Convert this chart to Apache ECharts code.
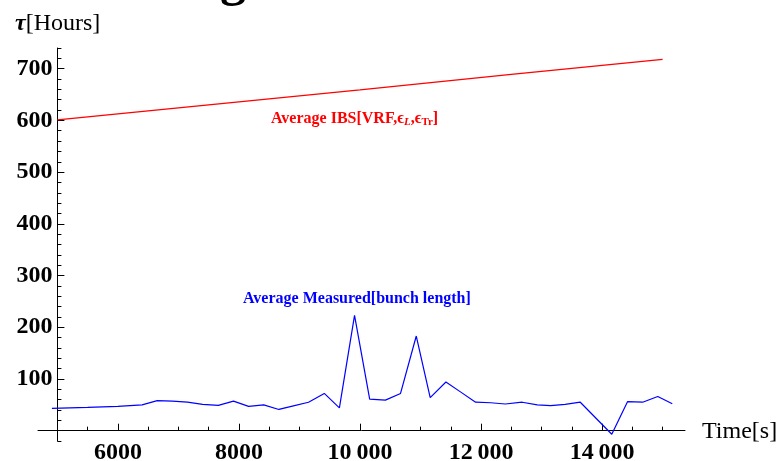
<!DOCTYPE html>
<html>
<head>
<meta charset="utf-8">
<script src="https://cdn.jsdelivr.net/npm/echarts@6/dist/echarts.min.js"></script>
<style>
html,body{margin:0;padding:0;background:#fff;}
#chart{width:784px;height:461px;}
</style>
</head>
<body>
<div id="chart"></div>
<script>
//时间 (s)
var timeS = [4910, 5500, 6000, 6400, 6650, 6900, 7150, 7400, 7660, 7910, 8160, 8410, 8660, 8900, 9150, 9410, 9660, 9910, 10160, 10420, 10670, 10930, 11160, 11420, 11660, 11910, 12160, 12400, 12680, 12930, 13150, 13390, 13640, 14160, 14420, 14670, 14920, 15160];
//测量值
var measured = [43, 45, 47, 50, 58, 57, 55, 51, 49, 57, 47, 50, 41, 48, 55, 72, 44, 223, 61, 59, 72, 183, 64, 94, 75, 55, 54, 51.5, 55, 50, 48.5, 51, 55, -7, 56, 55, 66, 52];
//IBS
var ibsTime = [5000, 7500, 10000, 12500, 15000];
var ibsValue = [601, 630, 659, 689, 718];

//刻度
var xMinorTicks = [5000, 5500, 6000, 6500, 7000, 7500, 8000, 8500, 9000, 9500, 10000, 10500, 11000, 11500, 12000, 12500, 13000, 13500, 14000, 14500, 15000];
var xMajorTicks = [6000, 8000, 10000, 12000, 14000];
var yMajorTicks = [100, 200, 300, 400, 500, 600, 700];

function pairs(xs, ys){
	var out = [];
	for(var i = 0; i < xs.length; i++){
		out.push([xs[i], ys[i]]);
	}
	return out;
}

function fmtX(v){
	if(v >= 10000){
		var s = String(v);
		return s.slice(0, s.length - 3) + '\u2009' + s.slice(s.length - 3);
	}
	return String(v);
}

var serif = '"Liberation Serif", "DejaVu Serif", serif';
var axisCol = '#000';

var option = {
	backgroundColor: '#fff',
	animation: false,
	grid: {left: 38, right: 99, top: 48, bottom: 20, containLabel: false, outerBoundsMode: 'none'},
	xAxis: [{
		type: 'value', min: 4680, max: 15370, position: 'bottom',
		axisLine: {show: true, onZero: true, onZeroAxisIndex: 0, lineStyle: {color: axisCol, width: 1}},
		axisTick: {show: true, inside: true, length: 4, customValues: xMinorTicks, lineStyle: {color: axisCol}},
		axisLabel: {show: false},
		splitLine: {show: false}
	}, {
		//主刻度和标签, 上移到 y=0
		type: 'value', min: 4680, max: 15370, position: 'bottom', offset: -10.3,
		axisLine: {show: false, onZero: false},
		axisTick: {show: true, inside: true, length: 7, customValues: xMajorTicks, lineStyle: {color: axisCol}},
		axisLabel: {show: true, customValues: xMajorTicks, margin: 10, formatter: fmtX,
			color: '#000', fontFamily: serif, fontWeight: 'bold', fontSize: 24},
		splitLine: {show: false}
	}],
	yAxis: [{
		type: 'value', min: -20, max: 740, interval: 20, position: 'left', offset: -19.4,
		axisLine: {show: true, onZero: false, lineStyle: {color: axisCol, width: 1}},
		axisTick: {show: true, inside: true, length: 4, lineStyle: {color: axisCol}},
		axisLabel: {show: false},
		splitLine: {show: false}
	}, {
		type: 'value', min: -20, max: 740, interval: 20, position: 'left', offset: -19.4,
		axisLine: {show: false, onZero: false},
		axisTick: {show: true, inside: true, length: 7, customValues: yMajorTicks, lineStyle: {color: axisCol}},
		axisLabel: {show: true, customValues: yMajorTicks, margin: 5,
			color: '#000', fontFamily: serif, fontWeight: 'bold', fontSize: 24},
		splitLine: {show: false}
	}],
	series: [{
		name: 'IBS', type: 'line', xAxisIndex: 0, yAxisIndex: 0,
		data: pairs(ibsTime, ibsValue), showSymbol: false, symbol: 'none', clip: false,
		lineStyle: {color: '#ff0000', width: 1.2}
	}, {
		name: 'Measured', type: 'line', xAxisIndex: 0, yAxisIndex: 0,
		data: pairs(timeS, measured), showSymbol: false, symbol: 'none', clip: false,
		lineStyle: {color: '#0000ff', width: 1.2}
	}],
	graphic: [{
		//被裁掉的标题
		type: 'text', left: 220, top: -44, silent: true,
		style: {text: 'g', font: 'bold 52px ' + serif, fill: '#000'}
	}, {
		type: 'text', left: 15, top: 12, silent: true,
		style: {
			text: '{t|τ}{h|[Hours]}',
			rich: {
				t: {fontFamily: serif, fontSize: 24, fontWeight: 'bold', fontStyle: 'italic', fill: '#000'},
				h: {fontFamily: serif, fontSize: 24, fill: '#000'}
			}
		}
	}, {
		type: 'text', left: 702, top: 420, silent: true,
		style: {text: 'Time[s]', font: '24px ' + serif, fill: '#000'}
	}, {
		type: 'text', left: 271, top: 111, silent: true,
		style: {
			text: '{a|Average IBS[VRF,ϵ}{s|L}{a|,ϵ}{t|Tr}{a|]}',
			rich: {
				a: {fontFamily: serif, fontSize: 16, fontWeight: 'bold', fill: '#ff0000'},
				s: {fontFamily: serif, fontSize: 11, fontWeight: 'bold', fontStyle: 'italic', fill: '#ff0000', padding: [7, 0, 0, 0]},
				t: {fontFamily: serif, fontSize: 11, fontWeight: 'bold', fill: '#ff0000', padding: [7, 0, 0, 0]}
			}
		}
	}, {
		type: 'text', left: 243, top: 291, silent: true,
		style: {text: 'Average Measured[bunch length]', font: 'bold 16px ' + serif, fill: '#0000ff'}
	}]
};

var myChart = echarts.init(document.getElementById('chart'));
myChart.setOption(option, true);
</script>
</body>
</html>
